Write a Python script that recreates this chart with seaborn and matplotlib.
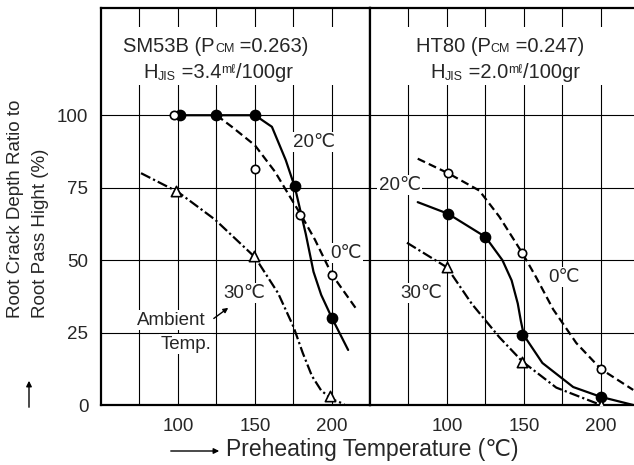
import matplotlib
matplotlib.use("Agg")
import matplotlib.pyplot as plt
from matplotlib.transforms import offset_copy
from matplotlib.patches import FancyArrowPatch
import seaborn as sns
import pandas as pd

# ---------------- data ----------------
# SM53B panel (left)
sm_20_curve_x = [100, 125, 150, 161, 170, 176, 183, 188, 193, 200, 210.5]
sm_20_curve_y = [100, 100, 100, 96, 84.5, 75, 59, 46, 38, 30, 19]
sm_0_curve_x = [125, 135, 150, 163, 172, 180, 189, 200, 216]
sm_0_curve_y = [100, 96, 89.6, 80.5, 72.5, 65.5, 57, 45, 33]
sm_30_curve_x = [76, 100, 124, 150, 165, 175, 181, 187, 193, 200, 208]
sm_30_curve_y = [80, 73.5, 64, 51, 38.6, 27, 18, 10, 5, 2, 0.3]

sm_20_pts_x = [101.5, 125, 150, 176, 200]
sm_20_pts_y = [100, 100, 100, 75.5, 30]
sm_0_pts_x = [97.5, 150, 179.5, 200]
sm_0_pts_y = [100, 81.4, 65.5, 45]
sm_30_pts_x = [99, 149.5, 199]
sm_30_pts_y = [73.8, 51.5, 3]

# HT80 panel (right)
ht_20_curve_x = [81, 100.7, 125, 136, 142, 146, 148, 150, 162, 182, 200, 221]
ht_20_curve_y = [70, 66, 58, 50, 43, 35, 29, 24, 14.5, 6.2, 2.8, 0]
ht_0_curve_x = [81, 100.7, 121, 134, 149, 158, 169, 184, 200, 221]
ht_0_curve_y = [85, 80, 74, 65, 52.4, 44, 33, 21.4, 12.4, 5.2]
ht_30_curve_x = [74, 100, 116, 134, 149, 171, 200]
ht_30_curve_y = [56, 47.5, 35, 23.4, 15, 6, 0]

ht_20_pts_x = [100.7, 125, 149, 200]
ht_20_pts_y = [66, 58, 24, 2.8]
ht_0_pts_x = [100.7, 149, 200]
ht_0_pts_y = [80, 52.4, 12.4]
ht_30_pts_x = [100, 149, 200]
ht_30_pts_y = [47.5, 15, 0]

y_ticks = [0, 25, 50, 75, 100]
x_grid = [75, 100, 125, 150, 175, 200]
x_tick_labels = ["", "100", "", "150", "", "200"]

# title pieces: (text, size, vertical offset in px)
title_left_1 = [("SM53B (P", 14.5, 0), ("CM", 9, 0), (" =0.263)", 14.5, 0)]
title_left_2 = [("H", 14.5, 0), ("JIS", 9, -2), (" =3.4", 14.5, 0), ("mℓ", 9, 5),
                ("/100gr", 14.5, 0)]
title_right_1 = [("HT80 (P", 14.5, 0), ("CM", 9, 0), (" =0.247)", 14.5, 0)]
title_right_2 = [("H", 14.5, 0), ("JIS", 9, -2), (" =2.0", 14.5, 0), ("mℓ", 9, 5),
                 ("/100gr", 14.5, 0)]

# ---------------- style ----------------
sns.set_style("white")
FAM = ["Liberation Sans", "DejaVu Sans"]
plt.rcParams["font.family"] = FAM
plt.rcParams["lines.scale_dashes"] = False
plt.rcParams["axes.axisbelow"] = True

W, H = 634, 465
fig = plt.figure(figsize=(W / 100, H / 100), dpi=100)
ax1 = fig.add_axes([101 / W, 60 / H, 269 / W, 397 / H])
ax2 = fig.add_axes([370 / W, 60 / H, 264 / W, 397 / H], sharey=ax1)
renderer = fig.canvas.get_renderer()

dash_map = {"20": "", "0": (5.8, 3.0), "30": (7.5, 2.2, 1.6, 2.2)}


def curves_df(c20, c0, c30):
    rows = []
    for key, (xs, ys) in (("20", c20), ("0", c0), ("30", c30)):
        for x, y in zip(xs, ys):
            rows.append({"temp": key, "x": x, "y": y})
    return pd.DataFrame(rows)


def draw_panel(ax, c20, c0, c30, p20, p0, p30, xmax):
    ax.set_xlim(50, xmax)
    ax.set_ylim(0, 137)
    ax.set_xticks(x_grid)
    ax.set_xticklabels(x_tick_labels)
    ax.set_yticks(y_ticks)
    ax.grid(True, color="black", lw=0.8)
    ax.tick_params(length=0, labelsize=13.5, pad=9)
    for s in ax.spines.values():
        s.set_color("black")
        s.set_linewidth(1.6)
    ax.axhspan(110.3, 130.3, xmin=0.015, xmax=0.985, color="white", zorder=1, lw=0)

    df = curves_df(c20, c0, c30)
    sns.lineplot(data=df, x="x", y="y", style="temp", dashes=dash_map,
                 sort=False, estimator=None, color="black", lw=1.6,
                 legend=False, ax=ax, zorder=2)
    sns.scatterplot(x=p20[0], y=p20[1], marker="o", s=55, color="black",
                    edgecolor="black", linewidth=1.0, ax=ax, zorder=4)
    sns.scatterplot(x=p0[0], y=p0[1], marker="o", s=36, color="white",
                    edgecolor="black", linewidth=1.2, ax=ax, zorder=4)
    sns.scatterplot(x=p30[0], y=p30[1], marker="^", s=55, color="white",
                    edgecolor="black", linewidth=1.2, ax=ax, zorder=4)
    ax.set_xlabel("")
    ax.set_ylabel("")


def rich_text(ax, xc, y, pieces):
    widths = []
    for s, size, dy in pieces:
        t = ax.text(0, 0, s, fontsize=size)
        widths.append(t.get_window_extent(renderer).width)
        t.remove()
    x0 = -sum(widths) / 2
    for (s, size, dy), w in zip(pieces, widths):
        tr = offset_copy(ax.transData, fig=fig, x=x0, y=dy, units="dots")
        ax.text(xc, y, s, fontsize=size, transform=tr, ha="left",
                va="baseline", zorder=5)
        x0 += w


draw_panel(ax1, (sm_20_curve_x, sm_20_curve_y), (sm_0_curve_x, sm_0_curve_y),
           (sm_30_curve_x, sm_30_curve_y), (sm_20_pts_x, sm_20_pts_y),
           (sm_0_pts_x, sm_0_pts_y), (sm_30_pts_x, sm_30_pts_y), 224.7)
draw_panel(ax2, (ht_20_curve_x, ht_20_curve_y), (ht_0_curve_x, ht_0_curve_y),
           (ht_30_curve_x, ht_30_curve_y), (ht_20_pts_x, ht_20_pts_y),
           (ht_0_pts_x, ht_0_pts_y), (ht_30_pts_x, ht_30_pts_y), 221.5)
ax2.spines["right"].set_visible(False)
ax2.tick_params(labelleft=False)

# titles
rich_text(ax1, 124.7, 121.7, title_left_1)
rich_text(ax1, 126.0, 112.8, title_left_2)
rich_text(ax2, 134.6, 121.7, title_right_1)
rich_text(ax2, 137.9, 112.8, title_right_2)

wb = dict(facecolor="white", edgecolor="none", pad=1.0)
lab = dict(fontsize=13.5, zorder=5, bbox=wb, va="center")
ax1.text(175, 90.7, "20℃", ha="left", **lab)
ax1.text(199, 52.4, "0℃", ha="left", **lab)
ax1.text(129.5, 38.6, "30℃", ha="left", **lab)
ax1.text(117.9, 29.3, "Ambient", ha="right", **lab)
ax1.text(121.8, 21, "Temp.", ha="right", **lab)
ax1.annotate("", xy=(134.1, 34.1), xytext=(121.8, 29.3),
             arrowprops=dict(arrowstyle="-|>", lw=1.0, color="black", mutation_scale=7),
             zorder=5)
ax2.text(55.6, 75.9, "20℃", ha="left", **lab)
ax2.text(166, 44.1, "0℃", ha="left", **lab)
ax2.text(70, 38.6, "30℃", ha="left", **lab)

# axis labels
fig.text(16 / W, 1 - 318 / H, "Root Crack Depth Ratio to", rotation=90,
         ha="center", va="bottom", fontsize=13.5)
fig.text(41 / W, 1 - 318 / H, "Root Pass Hight (%)", rotation=90,
         ha="center", va="bottom", fontsize=13.5)
fig.add_artist(FancyArrowPatch(
    (29 / W, 1 - 410 / H), (29 / W, 1 - 378 / H), transform=fig.transFigure,
    arrowstyle="-|>", mutation_scale=8, lw=1.0, color="black"))

fig.add_artist(FancyArrowPatch(
    (168 / W, 1 - 451 / H), (222 / W, 1 - 451 / H), transform=fig.transFigure,
    arrowstyle="-|>", mutation_scale=8, lw=1.0, color="black"))
fig.text(226 / W, 1 - 449 / H, "Preheating Temperature (℃)", ha="left",
         va="center", fontsize=16.5)

fig.savefig("out.png", dpi=100)
